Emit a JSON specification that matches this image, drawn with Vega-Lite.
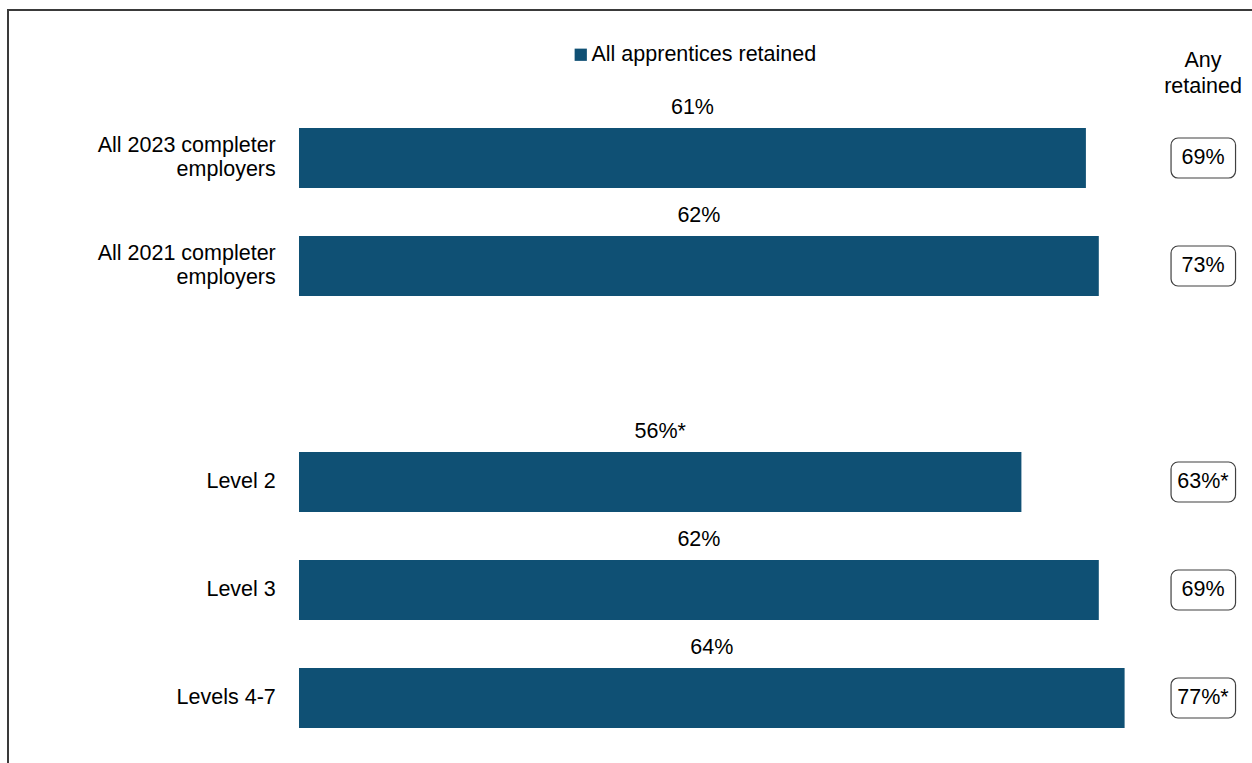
{
  "$schema": "https://vega.github.io/schema/vega-lite/v6.json",
  "width": 1260,
  "height": 836,
  "autosize": {"type": "none"},
  "padding": {"left": 8, "top": 10, "right": 0, "bottom": 0},
  "background": "white",
  "config": {
    "view": {"stroke": "#3a3a3a", "strokeWidth": 2},
    "text": {"font": "Liberation Sans", "fontSize": 21.5, "color": "#000000"},
    "legend": {"labelFont": "Liberation Sans", "labelFontSize": 21.5, "labelColor": "#000000", "labelLimit": 0, "symbolType": "square", "symbolSize": 150, "symbolStrokeWidth": 0, "labelOffset": 0, "padding": 0}
  },
  "data": {"values": [
    {"cat": "All 2023 completer employers", "label": "All 2023 completer|employers", "lines": 2, "all": 61, "allLabel": "61%", "anyLabel": "69%"},
    {"cat": "All 2021 completer employers", "label": "All 2021 completer|employers", "lines": 2, "all": 62, "allLabel": "62%", "anyLabel": "73%"},
    {"cat": "Level 2", "label": "Level 2", "lines": 1, "all": 56, "allLabel": "56%*", "anyLabel": "63%*"},
    {"cat": "Level 3", "label": "Level 3", "lines": 1, "all": 62, "allLabel": "62%", "anyLabel": "69%"},
    {"cat": "Levels 4-7", "label": "Levels 4-7", "lines": 1, "all": 64, "allLabel": "64%", "anyLabel": "77%*"}
  ]},
  "encoding": {
    "y": {
      "field": "cat", "type": "nominal", "axis": null,
      "scale": {
        "domain": ["hdr", "All 2023 completer employers", "All 2021 completer employers", "gap", "Level 2", "Level 3", "Levels 4-7", "bottom"],
        "paddingInner": 0.4444, "paddingOuter": 0.0926
      }
    }
  },
  "resolve": {"scale": {"x": "independent"}},
  "layer": [
    {
      "layer": [
        {
          "mark": {"type": "bar"},
          "encoding": {
            "x": {"field": "all", "type": "quantitative", "axis": null, "scale": {"domain": [-22.558, 75.116], "nice": false, "zero": false}},
            "x2": {"datum": 0},
            "color": {"datum": "All apprentices retained", "type": "nominal", "scale": {"range": ["#0F5074"]},
              "legend": {"title": null, "orient": "none", "legendX": 562, "legendY": 34}}
          }
        },
        {
          "transform": [{"filter": "datum.lines == 2"}],
          "mark": {"type": "text", "align": "right", "baseline": "middle", "lineBreak": "|", "lineHeight": 24, "dy": -12},
          "encoding": {
            "x": {"datum": -1.8, "type": "quantitative"},
            "text": {"field": "label"}
          }
        },
        {
          "transform": [{"filter": "datum.lines == 1"}],
          "mark": {"type": "text", "align": "right", "baseline": "middle"},
          "encoding": {
            "x": {"datum": -1.8, "type": "quantitative"},
            "text": {"field": "label"}
          }
        },
        {
          "mark": {"type": "rect", "height": 40, "fill": "white", "stroke": "#404040", "strokeWidth": 1.2, "cornerRadius": 7},
          "encoding": {
            "x": {"datum": 67.6, "type": "quantitative"},
            "x2": {"datum": 72.6}
          }
        },
        {
          "mark": {"type": "text", "align": "center", "baseline": "middle"},
          "encoding": {
            "x": {"datum": 70.08, "type": "quantitative"},
            "text": {"field": "anyLabel"}
          }
        },
        {
          "data": {"values": [{"cat": "hdr", "h": "Any|retained"}]},
          "mark": {"type": "text", "align": "center", "baseline": "middle", "lineBreak": "|", "lineHeight": 26, "dy": 11},
          "encoding": {
            "x": {"datum": 70.08, "type": "quantitative"},
            "text": {"field": "h"}
          }
        }
      ]
    },
    {
      "mark": {"type": "text", "align": "center", "baseline": "middle", "dy": -50},
      "encoding": {
        "x": {"field": "all", "type": "quantitative", "axis": null, "scale": {"domain": [-45.116, 150.232], "nice": false, "zero": false}},
        "text": {"field": "allLabel"}
      }
    }
  ]
}
